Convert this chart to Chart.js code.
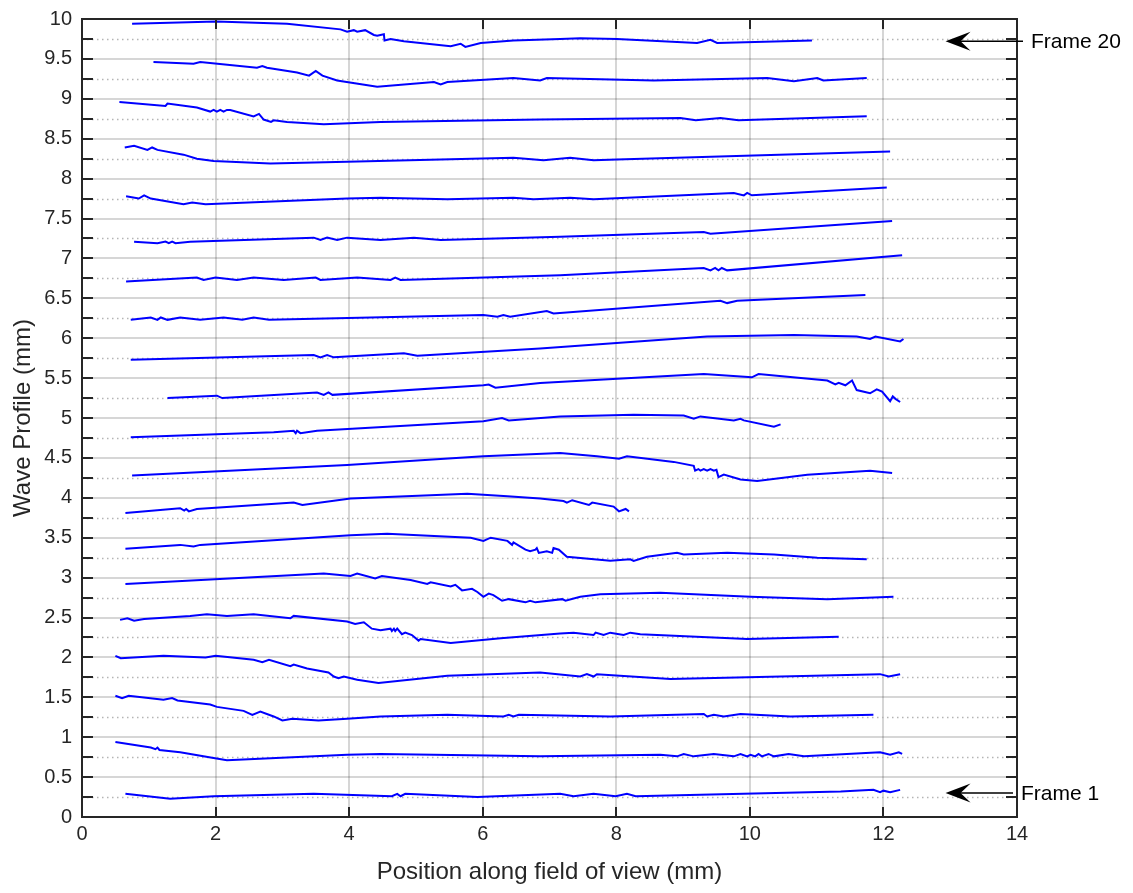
<!DOCTYPE html>
<html lang="en">
<head>
  <meta charset="UTF-8" />
  <title>Wave profiles</title>
  <script src="https://cdn.jsdelivr.net/npm/chart.js"></script>
  <style>
    body { margin: 0; background: #fff; }
    canvas { display: block; }
  </style>
</head>
<body>
  <canvas id="grafico" width="1133" height="893"></canvas>

  <script>
    // one profile per frame, [position mm, profile mm]
    const frame01 = [[0.65,0.29],[1.32,0.23],[1.97,0.26],[3.47,0.29],[4.64,0.26],[4.72,0.29],[4.77,0.26],[4.84,0.29],[5.92,0.25],[7.16,0.29],[7.36,0.26],[7.66,0.29],[7.99,0.26],[8.16,0.29],[8.29,0.26],[11.36,0.32],[11.85,0.34],[11.95,0.31],[12.0,0.33],[12.1,0.31],[12.25,0.34]];
    const frame02 = [[0.5,0.94],[1.03,0.87],[1.1,0.85],[1.13,0.87],[1.16,0.84],[1.47,0.81],[1.97,0.74],[2.17,0.71],[3.97,0.78],[4.47,0.79],[6.86,0.76],[8.66,0.78],[8.91,0.76],[9.01,0.79],[9.16,0.76],[9.46,0.79],[9.76,0.76],[9.86,0.79],[9.96,0.76],[10.01,0.78],[10.08,0.76],[10.13,0.79],[10.18,0.76],[10.28,0.79],[10.36,0.76],[10.58,0.79],[10.81,0.76],[11.95,0.81],[12.1,0.78],[12.23,0.81],[12.28,0.79]];
    const frame03 = [[0.5,1.52],[0.6,1.49],[0.7,1.52],[1.22,1.47],[1.35,1.49],[1.43,1.46],[1.92,1.41],[2.02,1.38],[2.42,1.33],[2.55,1.28],[2.67,1.32],[2.87,1.26],[3.0,1.21],[3.15,1.23],[3.54,1.21],[3.97,1.23],[4.47,1.26],[5.47,1.28],[6.31,1.26],[6.39,1.28],[6.46,1.26],[6.54,1.28],[7.91,1.26],[9.31,1.29],[9.36,1.26],[9.46,1.28],[9.61,1.26],[9.86,1.29],[10.61,1.26],[11.85,1.28]];
    const frame04 = [[0.5,2.02],[0.58,1.99],[1.22,2.02],[1.85,2.0],[2.0,2.02],[2.57,1.97],[2.7,1.94],[2.8,1.97],[3.12,1.89],[3.17,1.91],[3.37,1.86],[3.69,1.81],[3.77,1.76],[3.84,1.74],[3.92,1.76],[4.12,1.72],[4.44,1.68],[5.47,1.77],[6.86,1.81],[7.46,1.76],[7.56,1.79],[7.66,1.76],[7.71,1.79],[8.81,1.73],[11.95,1.79],[12.08,1.76],[12.25,1.79]];
    const frame05 = [[0.57,2.47],[0.68,2.49],[0.78,2.46],[0.93,2.48],[1.62,2.52],[1.87,2.54],[2.17,2.52],[2.57,2.54],[3.12,2.49],[3.17,2.52],[3.97,2.45],[4.09,2.42],[4.22,2.44],[4.34,2.36],[4.47,2.34],[4.62,2.36],[4.64,2.33],[4.67,2.36],[4.69,2.33],[4.72,2.36],[4.79,2.29],[4.84,2.31],[4.94,2.28],[5.04,2.21],[5.07,2.23],[5.52,2.18],[6.27,2.24],[7.16,2.3],[7.36,2.31],[7.66,2.28],[7.69,2.31],[7.81,2.28],[7.91,2.31],[8.11,2.28],[8.21,2.31],[8.36,2.29],[9.96,2.23],[11.33,2.26]];
    const frame06 = [[0.65,2.92],[3.62,3.05],[4.02,3.02],[4.12,3.05],[4.39,2.99],[4.49,3.02],[4.92,2.97],[5.17,2.92],[5.22,2.94],[5.52,2.89],[5.59,2.91],[5.69,2.84],[5.84,2.86],[5.92,2.82],[6.01,2.76],[6.09,2.8],[6.16,2.78],[6.29,2.71],[6.39,2.73],[6.64,2.69],[6.71,2.71],[6.79,2.69],[7.19,2.73],[7.24,2.71],[7.46,2.76],[7.76,2.79],[8.66,2.81],[10.01,2.76],[11.16,2.73],[12.15,2.76]];
    const frame07 = [[0.65,3.36],[1.47,3.41],[1.67,3.39],[1.77,3.41],[4.02,3.53],[4.57,3.55],[5.82,3.5],[6.01,3.46],[6.12,3.5],[6.37,3.46],[6.44,3.41],[6.46,3.44],[6.64,3.35],[6.71,3.33],[6.79,3.35],[6.81,3.37],[6.84,3.31],[6.96,3.33],[7.04,3.31],[7.06,3.37],[7.14,3.35],[7.26,3.26],[7.91,3.21],[8.21,3.23],[8.26,3.21],[8.46,3.26],[8.91,3.31],[9.01,3.29],[9.66,3.31],[10.36,3.29],[11.01,3.25],[11.75,3.23]];
    const frame08 = [[0.65,3.81],[1.47,3.87],[1.53,3.84],[1.56,3.86],[1.6,3.83],[1.72,3.86],[3.17,3.94],[3.3,3.91],[4.02,3.99],[5.77,4.05],[6.37,4.02],[6.86,3.99],[7.21,3.96],[7.26,3.94],[7.34,3.97],[7.59,3.91],[7.64,3.94],[7.96,3.89],[8.04,3.83],[8.14,3.86],[8.19,3.83]];
    const frame09 = [[0.75,4.28],[3.97,4.41],[6.01,4.52],[7.16,4.56],[7.71,4.52],[8.04,4.49],[8.16,4.52],[8.86,4.45],[9.16,4.4],[9.18,4.34],[9.23,4.36],[9.26,4.34],[9.31,4.36],[9.36,4.34],[9.41,4.36],[9.46,4.34],[9.5,4.35],[9.53,4.26],[9.61,4.29],[9.86,4.23],[10.11,4.21],[10.86,4.29],[11.8,4.34],[12.13,4.31]];
    const frame10 = [[0.73,4.76],[2.87,4.82],[3.17,4.84],[3.2,4.81],[3.22,4.84],[3.27,4.81],[3.52,4.84],[6.01,4.96],[6.29,5.0],[6.39,4.97],[7.16,5.02],[8.26,5.04],[9.01,5.03],[9.16,4.99],[9.26,5.02],[9.76,4.97],[9.86,4.99],[9.91,4.97],[10.36,4.89],[10.46,4.92]];
    const frame11 = [[1.28,5.25],[2.02,5.28],[2.1,5.25],[3.52,5.32],[3.62,5.29],[3.69,5.32],[3.75,5.29],[6.01,5.41],[6.09,5.42],[6.19,5.38],[6.86,5.44],[9.31,5.55],[10.03,5.51],[10.13,5.55],[11.16,5.47],[11.28,5.42],[11.33,5.44],[11.43,5.41],[11.53,5.47],[11.6,5.35],[11.8,5.31],[11.9,5.36],[11.98,5.33],[12.1,5.21],[12.14,5.27],[12.18,5.24],[12.25,5.2]];
    const frame12 = [[0.73,5.73],[3.47,5.79],[3.57,5.76],[3.67,5.79],[3.77,5.76],[4.82,5.81],[5.02,5.78],[6.86,5.87],[9.36,6.02],[10.66,6.04],[11.6,6.02],[11.8,5.99],[11.88,6.02],[12.25,5.96],[12.3,5.99]];
    const frame13 = [[0.73,6.23],[1.03,6.26],[1.13,6.23],[1.18,6.26],[1.28,6.23],[1.47,6.26],[1.77,6.23],[2.12,6.26],[2.4,6.23],[2.57,6.26],[2.8,6.23],[6.01,6.29],[6.22,6.27],[6.31,6.29],[6.41,6.27],[6.96,6.34],[7.06,6.31],[9.56,6.47],[9.66,6.44],[9.81,6.47],[11.73,6.54]];
    const frame14 = [[0.66,6.71],[1.72,6.76],[1.82,6.73],[2.0,6.76],[2.32,6.73],[2.57,6.76],[3.02,6.73],[3.5,6.76],[3.57,6.73],[4.12,6.76],[4.62,6.73],[4.69,6.76],[4.77,6.73],[7.16,6.79],[9.31,6.88],[9.41,6.85],[9.48,6.88],[9.53,6.85],[9.58,6.88],[9.66,6.85],[12.28,7.04]];
    const frame15 = [[0.78,7.21],[1.13,7.19],[1.25,7.21],[1.3,7.19],[1.35,7.21],[1.4,7.19],[1.62,7.21],[3.47,7.26],[3.57,7.23],[3.67,7.26],[3.82,7.23],[3.97,7.26],[4.47,7.23],[4.97,7.26],[5.37,7.23],[7.16,7.27],[9.31,7.33],[9.41,7.31],[12.13,7.47]];
    const frame16 = [[0.66,7.78],[0.85,7.75],[0.93,7.79],[1.03,7.75],[1.52,7.68],[1.65,7.7],[1.85,7.68],[3.97,7.75],[4.47,7.76],[5.47,7.74],[6.46,7.76],[6.76,7.74],[7.31,7.76],[7.66,7.74],[9.76,7.82],[9.91,7.79],[9.96,7.82],[10.03,7.79],[12.05,7.89]];
    const frame17 = [[0.64,8.39],[0.78,8.41],[0.98,8.36],[1.05,8.39],[1.13,8.36],[1.52,8.3],[1.72,8.25],[1.97,8.22],[2.82,8.19],[3.97,8.21],[6.46,8.26],[6.91,8.23],[7.31,8.26],[7.66,8.23],[8.01,8.24],[12.1,8.34]];
    const frame18 = [[0.56,8.96],[1.25,8.91],[1.28,8.94],[1.72,8.89],[1.92,8.84],[1.97,8.86],[2.02,8.84],[2.07,8.86],[2.12,8.84],[2.17,8.86],[2.22,8.86],[2.57,8.78],[2.65,8.81],[2.72,8.74],[2.83,8.71],[2.87,8.73],[3.07,8.71],[3.62,8.68],[4.47,8.71],[6.86,8.74],[8.96,8.76],[9.19,8.73],[9.56,8.76],[9.83,8.73],[11.75,8.78]];
    const frame19 = [[1.07,9.46],[1.67,9.44],[1.77,9.46],[2.62,9.39],[2.7,9.41],[2.77,9.39],[3.22,9.33],[3.4,9.29],[3.5,9.35],[3.6,9.29],[3.82,9.23],[4.42,9.15],[5.27,9.21],[5.37,9.18],[5.47,9.21],[6.46,9.26],[6.86,9.23],[6.96,9.26],[8.56,9.23],[10.26,9.26],[10.66,9.22],[11.01,9.26],[11.1,9.23],[11.75,9.26]];
    const frame20 = [[0.75,9.94],[2.01,9.97],[3.07,9.94],[3.87,9.87],[3.97,9.84],[4.07,9.86],[4.12,9.84],[4.24,9.86],[4.37,9.8],[4.42,9.79],[4.52,9.81],[4.53,9.73],[4.62,9.75],[4.82,9.72],[5.52,9.66],[5.67,9.69],[5.74,9.65],[5.97,9.7],[6.46,9.73],[7.16,9.75],[7.46,9.76],[8.01,9.75],[9.21,9.7],[9.41,9.74],[9.51,9.7],[10.93,9.73]];

    const frames = [frame01, frame02, frame03, frame04, frame05, frame06, frame07, frame08, frame09, frame10,
                    frame11, frame12, frame13, frame14, frame15, frame16, frame17, frame18, frame19, frame20];

    // dotted reference line of each frame
    const baselines = [0.25, 0.75, 1.25, 1.75, 2.25, 2.75, 3.25, 3.75, 4.25, 4.75,
                       5.25, 5.75, 6.25, 6.75, 7.25, 7.75, 8.25, 8.75, 9.25, 9.75];
    const minorTicksY = [0.25, 0.5, 0.75, 1, 1.25, 1.5, 1.75, 2, 2.25, 2.5, 2.75, 3, 3.25, 3.5, 3.75, 4, 4.25, 4.5, 4.75, 5,
                         5.25, 5.5, 5.75, 6, 6.25, 6.5, 6.75, 7, 7.25, 7.5, 7.75, 8, 8.25, 8.5, 8.75, 9, 9.25, 9.5, 9.75];
    const ticksX = [2, 4, 6, 8, 10, 12];
    const annotations = [
      { text: 'Frame 20', y: 9.72, tail: 1023, textX: 1031 },
      { text: 'Frame 1', y: 0.30, tail: 1013, textX: 1021 }
    ];

    const FUENTE = "'Liberation Sans', Arial, Helvetica, sans-serif";
    const INK = '#262626';

    const marco = {
      id: 'marco',
      beforeDatasetsDraw(chart) {
        const { ctx, chartArea: a, scales: { y } } = chart;
        ctx.save();
        ctx.strokeStyle = '#b4b4b4';
        ctx.lineWidth = 1.5;
        ctx.setLineDash([1.5, 3.5]);
        baselines.forEach(b => {
          const py = Math.round(y.getPixelForValue(b)) + 0.5;
          ctx.beginPath();
          ctx.moveTo(a.left, py);
          ctx.lineTo(a.right, py);
          ctx.stroke();
        });
        ctx.restore();
      },
      afterDatasetsDraw(chart) {
        const { ctx, chartArea: a, scales: { x, y } } = chart;
        ctx.save();
        ctx.strokeStyle = INK;
        ctx.lineWidth = 2;
        // ticks hacia dentro
        ctx.beginPath();
        minorTicksY.forEach(v => {
          const py = Math.round(y.getPixelForValue(v));
          ctx.moveTo(a.left, py); ctx.lineTo(a.left + 11, py);
          ctx.moveTo(a.right, py); ctx.lineTo(a.right - 11, py);
        });
        ticksX.forEach(v => {
          const px = Math.round(x.getPixelForValue(v));
          ctx.moveTo(px, a.bottom); ctx.lineTo(px, a.bottom - 10);
          ctx.moveTo(px, a.top); ctx.lineTo(px, a.top + 10);
        });
        ctx.stroke();
        ctx.strokeRect(a.left, a.top, a.right - a.left, a.bottom - a.top);

        // flechas
        ctx.fillStyle = '#000';
        ctx.strokeStyle = '#000';
        ctx.lineWidth = 1.5;
        ctx.font = '21px ' + FUENTE;
        ctx.textBaseline = 'middle';
        annotations.forEach(an => {
          const py = y.getPixelForValue(an.y);
          const tip = x.getPixelForValue(12.93);
          ctx.beginPath();
          ctx.moveTo(tip + 12, py); ctx.lineTo(an.tail, py);
          ctx.stroke();
          ctx.beginPath();
          ctx.moveTo(tip, py);
          ctx.lineTo(tip + 25, py - 9.5);
          ctx.lineTo(tip + 15, py);
          ctx.lineTo(tip + 25, py + 9.5);
          ctx.closePath();
          ctx.fill();
          ctx.fillText(an.text, an.textX, py + 1);
        });
        ctx.restore();
      }
    };

    const datasets = frames.map((f, i) => ({
      label: 'Frame ' + (i + 1),
      data: f.map(p => ({ x: p[0], y: p[1] })),
      borderColor: '#0000ff',
      borderWidth: 2,
      pointRadius: 0,
      tension: 0,
      fill: false
    }));

    new Chart(document.getElementById('grafico'), {
      type: 'line',
      data: { datasets },
      options: {
        responsive: false,
        animation: false,
        layout: { padding: { top: 19, right: 116, left: 0, bottom: 0 } },
        plugins: { legend: { display: false }, tooltip: { enabled: false } },
        scales: {
          x: {
            type: 'linear',
            min: 0, max: 14,
            afterFit: s => { s.height = 76; s.paddingLeft = 0; s.paddingRight = 0; },
            ticks: { stepSize: 2, color: INK, font: { family: FUENTE, size: 20 }, padding: 5, maxRotation: 0 },
            grid: { color: 'rgba(0,0,0,0.16)', lineWidth: 2, drawTicks: false },
            border: { display: false },
            title: { display: true, text: 'Position along field of view (mm)', color: INK,
                     font: { family: FUENTE, size: 24 }, padding: { top: 0, bottom: 6 } }
          },
          y: {
            type: 'linear',
            min: 0, max: 10,
            afterFit: s => { s.width = 82; s.paddingTop = 0; s.paddingBottom = 0; },
            ticks: { stepSize: 0.5, color: INK, font: { family: FUENTE, size: 20 }, padding: 10,
                     callback: v => String(v) },
            grid: { color: 'rgba(0,0,0,0.16)', lineWidth: 2, drawTicks: false },
            border: { display: false },
            title: { display: true, text: 'Wave Profile (mm)', color: INK,
                     font: { family: FUENTE, size: 24 }, padding: { top: 9, bottom: 0 } }
          }
        }
      },
      plugins: [marco]
    });
  </script>
</body>
</html>
